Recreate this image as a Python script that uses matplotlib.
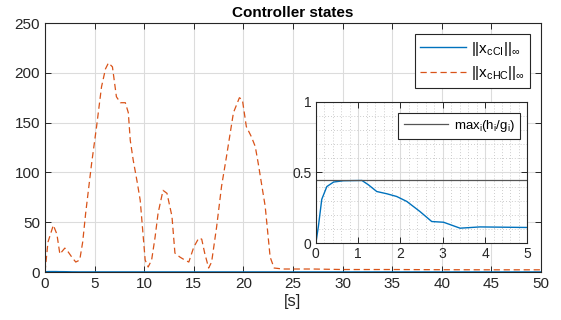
import matplotlib
matplotlib.use('Agg')
import matplotlib.pyplot as plt
from matplotlib.ticker import MultipleLocator

plt.rcParams['font.family'] = ['Liberation Sans', 'DejaVu Sans']
plt.rcParams['mathtext.fontset'] = 'custom'
plt.rcParams['mathtext.rm'] = 'Liberation Sans'
plt.rcParams['mathtext.it'] = 'Liberation Sans'
plt.rcParams['mathtext.fallback'] = 'cm'

BLUE = '#0072BD'
ORANGE = '#D95319'
AX_COL = '#262626'
GRID_COL = '#DCDCDC'

# ||x_cHC||_inf
t_hc = [0, 0.3, 0.84, 1.2, 1.5, 2.0, 2.35, 2.7, 3.1, 3.5, 3.8, 4.1, 4.7, 5.2, 5.7,
        6.1, 6.4, 6.8, 7.2, 7.6, 8.1, 8.4, 8.6, 8.9, 9.3, 9.6, 10.1, 10.4, 10.75,
        11.1, 11.4, 11.9, 12.3, 12.8, 13.1, 13.6, 14.1, 14.5, 15.0, 15.5, 15.8,
        16.1, 16.5, 16.8, 17.3, 17.8, 18.3, 19.0, 19.6, 19.9, 20.3, 20.8, 21.2,
        21.5, 22.2, 22.7, 23.1, 24.0, 27.0, 30.0, 35.0, 40.0, 45.0, 50.0]
x_hc = [0, 30, 47, 38, 18, 24, 20, 15, 10, 12, 30, 59, 109, 146, 186,
        204, 210, 206, 176, 170, 170, 160, 132, 112, 90, 72, 12, 5, 12,
        35, 59, 82, 79, 56, 19, 15, 12, 10, 25, 34, 33,
        19, 4, 10, 45, 86, 116, 160, 175, 173, 146, 136, 126,
        109, 66, 15, 4, 3, 3, 2.5, 2.5, 2.3, 2.2, 2.2]

# ||x_cCI||_inf
t_ci = [0, 0.06, 0.14, 0.26, 0.42, 0.65, 1.09, 1.24, 1.44, 1.68, 1.91, 2.15,
        2.46, 2.74, 3.02, 3.41, 3.88, 5.0, 10.0, 50.0]
x_ci = [0, 0.118, 0.31, 0.40, 0.432, 0.441, 0.443, 0.413, 0.365, 0.349, 0.33,
        0.295, 0.224, 0.153, 0.148, 0.106, 0.115, 0.111, 0.11, 0.11]

# max_i(h_i/g_i)
ratio_level = 0.448

main_xticks = list(range(0, 51, 5))
main_yticks = list(range(0, 251, 50))
inset_xticks = [0, 1, 2, 3, 4, 5]
inset_yticks = [0, 0.5, 1]


def style_axes(ax):
    for s in ax.spines.values():
        s.set_color(AX_COL)
        s.set_linewidth(0.8)
    ax.tick_params(direction='in', top=True, right=True, colors=AX_COL,
                   length=4, width=0.7)
    ax.set_axisbelow(True)


fig = plt.figure(figsize=(5.61, 3.2), dpi=100)
ax = fig.add_axes([0.0802, 0.15, 0.884, 0.778])
ax.plot(t_ci, x_ci, color=BLUE, lw=1.0, label=r'$||\mathrm{x}_{\mathrm{cCI}}||_{\infty}$')
ax.plot(t_hc, x_hc, color=ORANGE, lw=0.9, dashes=(5, 3),
        label=r'$||\mathrm{x}_{\mathrm{cHC}}||_{\infty}$')
ax.set_xlim(0, 50)
ax.set_ylim(0, 250)
ax.set_xticks(main_xticks)
ax.set_yticks(main_yticks)
ax.grid(True, color=GRID_COL, lw=0.8)
style_axes(ax)
ax.tick_params(labelsize=11)
ax.set_title('Controller states', fontsize=11, fontweight='bold', pad=4)
ax.set_xlabel('[s]', fontsize=12, color=AX_COL, labelpad=2)
leg = ax.legend(loc='upper right', bbox_to_anchor=(0.9778, 0.955), borderaxespad=0,
                fontsize=11, handlelength=3.0, handletextpad=0.3, fancybox=False,
                framealpha=1, edgecolor=AX_COL, borderpad=0.35, labelspacing=0.45)
leg.get_frame().set_linewidth(0.8)

axin = fig.add_axes([0.563, 0.240, 0.377, 0.4425])
axin.plot(t_ci, x_ci, color=BLUE, lw=1.0)
axin.plot(t_hc, x_hc, color=ORANGE, lw=0.9, dashes=(5, 3))
axin.axhline(ratio_level, color='#555555', lw=0.9,
             label=r'$\mathrm{max}_{\mathrm{i}}(\mathrm{h}_{\mathrm{i}}/\mathrm{g}_{\mathrm{i}})$')
axin.set_xlim(0, 5)
axin.set_ylim(0, 1)
axin.set_xticks(inset_xticks)
axin.set_yticks(inset_yticks)
axin.set_yticklabels(['0', '0.5', '1'])
axin.xaxis.set_minor_locator(MultipleLocator(0.2))
axin.yaxis.set_minor_locator(MultipleLocator(0.1))
axin.grid(True, which='major', color=GRID_COL, lw=0.8)
axin.grid(True, which='minor', color='#BDBDBD', lw=0.6, linestyle=(0, (1, 2.5)))
style_axes(axin)
axin.tick_params(which='minor', length=0)
axin.tick_params(which='major', labelsize=10, pad=3)
lg2 = axin.legend(loc='upper right', bbox_to_anchor=(0.9655, 0.922), borderaxespad=0,
                  fontsize=9.5, handlelength=3.4, handletextpad=0.4, fancybox=False,
                  framealpha=1, edgecolor=AX_COL, borderpad=0.4)
lg2.get_frame().set_linewidth(0.8)

fig.savefig('out.png', dpi=100, facecolor='white')
